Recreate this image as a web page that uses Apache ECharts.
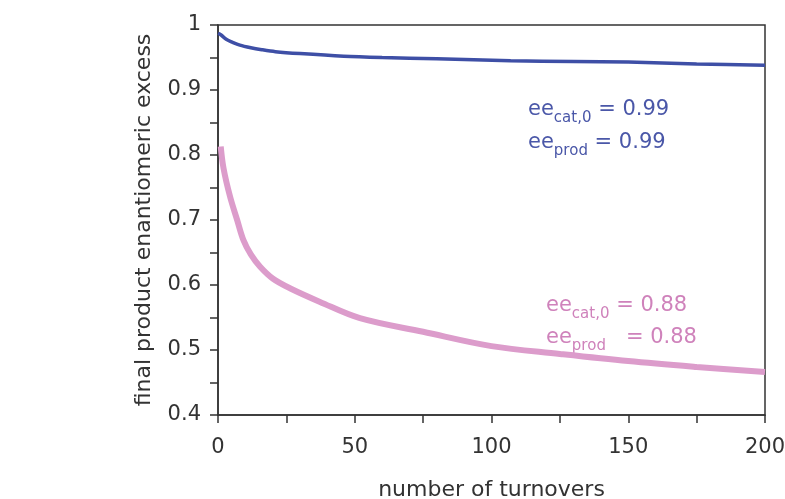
<!DOCTYPE html>
<html>
<head>
<meta charset="utf-8">
<script src="https://cdn.jsdelivr.net/npm/echarts@6/dist/echarts.min.js"></script>
<style>
  html, body { margin: 0; padding: 0; background: #fff; }
  #main { width: 785px; height: 499px; }
</style>
</head>
<body>
<div id="main"></div>
<script>
var blueTurnovers = [0, 1, 3, 5, 8, 12, 16, 21, 30, 46, 60, 80, 107, 130, 150, 175, 200];
var blueEe = [0.987, 0.985, 0.978, 0.974, 0.969, 0.965, 0.962, 0.959, 0.956, 0.952, 0.950, 0.948, 0.945, 0.944, 0.943, 0.940, 0.938];

var pinkTurnovers = [1, 2, 4.4, 7, 9.3, 12, 15.4, 20, 26.3, 37.3, 51.9, 75, 100, 125, 150, 175, 200];
var pinkEe = [0.813, 0.78, 0.736, 0.70, 0.669, 0.647, 0.628, 0.61, 0.595, 0.574, 0.549, 0.528, 0.506, 0.494, 0.483, 0.474, 0.466];

var xTicks = [0, 50, 100, 150, 200];
var yTicks = [0.4, 0.5, 0.6, 0.7, 0.8, 0.9, 1];

var blueColor = '#3e4fa6';
var pinkColor = '#dc9ccb';
var font = 'DejaVu Sans';

function pairs(xs, ys) {
    var out = [];
    for (let i = 0; i < xs.length; i++) out.push([xs[i], ys[i]]);
    return out;
}

var chart = echarts.init(document.getElementById('main'));

var axisLine = {show: true, lineStyle: {color: '#333', width: 1.5}};
var ticks = {show: true, inside: false, length: 8, lineStyle: {color: '#333', width: 1.5}};
var minor = {show: true, splitNumber: 2, length: 8, lineStyle: {color: '#333', width: 1.5}};

var option = {
    animation: false,
    backgroundColor: '#fff',
    grid: {
        left: 218, top: 25, right: 20, bottom: 84,
        containLabel: false, outerBoundsMode: 'none',
        show: true, borderColor: '#333', borderWidth: 1.5
    },
    xAxis: {
        type: 'value',
        min: xTicks[0],
        max: xTicks[xTicks.length - 1],
        interval: 50,
        name: 'number of turnovers',
        nameLocation: 'middle',
        nameGap: 64,
        nameTextStyle: {fontFamily: font, fontSize: 22, color: '#333'},
        axisLine: axisLine,
        axisTick: ticks,
        minorTick: minor,
        splitLine: {show: false},
        axisLabel: {fontFamily: font, fontSize: 21, color: '#333', margin: 22}
    },
    yAxis: {
        type: 'value',
        min: yTicks[0],
        max: yTicks[yTicks.length - 1],
        interval: 0.1,
        name: 'final product enantiomeric excess',
        nameLocation: 'middle',
        nameGap: 63,
        nameTextStyle: {fontFamily: font, fontSize: 22, color: '#333'},
        axisLine: axisLine,
        axisTick: ticks,
        minorTick: minor,
        splitLine: {show: false},
        axisLabel: {
            fontFamily: font, fontSize: 21, color: '#333', margin: 17,
            formatter: function (v) { return Math.abs(v - 1) < 1e-9 ? '1' : v.toFixed(1); }
        }
    },
    series: [
        {
            type: 'line',
            data: pairs(blueTurnovers, blueEe),
            smooth: 0.3,
            showSymbol: false,
            lineStyle: {color: blueColor, width: 3.5}
        },
        {
            type: 'line',
            data: pairs(pinkTurnovers, pinkEe),
            smooth: 0.35,
            showSymbol: false,
            lineStyle: {color: pinkColor, width: 6}
        }
    ],
    graphic: [
        {
            type: 'text', left: 528, top: 99,
            style: {
                text: '{b|ee}{s|cat,0}{b| = 0.99}\n{b|ee}{s|prod}{b| = 0.99}',
                rich: {
                    b: {fontFamily: font, fontSize: 21, fill: '#4a57a8', lineHeight: 33},
                    s: {fontFamily: font, fontSize: 15, fill: '#4a57a8', verticalAlign: 'bottom', padding: [12, 0, 0, 0], lineHeight: 33}
                }
            }
        },
        {
            type: 'text', left: 546, top: 295,
            style: {
                text: '{b|ee}{s|cat,0}{b| = 0.88}\n{b|ee}{s|prod}{b|   = 0.88}',
                rich: {
                    b: {fontFamily: font, fontSize: 21, fill: '#cf82bb', lineHeight: 32},
                    s: {fontFamily: font, fontSize: 15, fill: '#cf82bb', verticalAlign: 'bottom', padding: [12, 0, 0, 0], lineHeight: 32}
                }
            }
        }
    ]
};

chart.setOption(option);
</script>
</body>
</html>
